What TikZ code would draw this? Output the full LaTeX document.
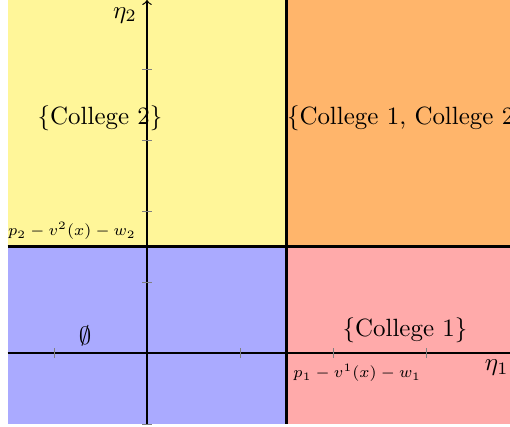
\documentclass[tikz,border=0pt]{standalone}
\usepackage{amsmath,amssymb}
\usepackage{tikz}

\definecolor{regyellow}{RGB}{255,246,153}
\definecolor{regorange}{RGB}{255,181,107}
\definecolor{regblue}{RGB}{170,170,255}
\definecolor{regred}{RGB}{255,170,170}

\begin{document}
\begin{tikzpicture}[x=1.31cm, y=1cm, >=to, every node/.style={font=\normalsize},
    tickmark/.style={draw=gray, line width=0.3pt},
    axisline/.style={line width=0.5pt},
    border/.style={line width=0.9pt},
    threshold/.style={font=\scriptsize, scale=0.905, inner sep=0pt}]
  \useasboundingbox (-1.581,-1.042) rectangle (3.903,4.972);
  
  \coordinate (SW) at (-1.5,-1);
  \coordinate (C) at (1.5,1.5);
  \coordinate (NE) at (3.903,4.972);
  \fill[regblue] (SW) rectangle (C);
  \fill[regred] (1.5,-1) rectangle (3.903,1.5);
  \fill[regyellow] (-1.5,1.5) rectangle (1.5,4.972);
  \fill[regorange] (C) rectangle (NE);
  
  \draw[axisline] (-1.5,0) -- (3.903,0);
  \draw[axisline, ->] (0,-1) -- (0,4.972);
  \foreach \x in {-1,1,2,3}
    \draw[tickmark] (\x,0) ++(0,-2pt) -- ++(0,4pt);
  \foreach \y in {-1,1,2,3,4}
    \draw[tickmark] (0,\y) ++(-2pt,0) -- ++(4pt,0);
  
  \draw[border] (1.5,-1) -- (1.5,4.972);
  \draw[border] (-1.5,1.5) -- (3.903,1.5);
  
  \node (EtaTwo) at (-0.237,4.76) {$\eta_2$};
  \node (EtaOne) at (3.76,-0.21) {$\eta_1$};
  \node[threshold, anchor=east] (ThrTwo) at (-0.118,1.72) {$p_2-v^2(x)-w_2$};
  \node[threshold, anchor=west] (ThrOne) at (1.57,-0.28) {$p_1-v^1(x)-w_1$};
  \node (Two) at (-0.505,3.31) {$\{$College 2$\}$};
  \node[anchor=west, inner sep=0pt] (Both) at (1.5,3.31) {$\{$College 1, College 2$\}$};
  \node (One) at (2.774,0.324) {$\{$College 1$\}$};
  \node (None) at (-0.667,0.24) {$\emptyset$};
\end{tikzpicture}
\end{document}
